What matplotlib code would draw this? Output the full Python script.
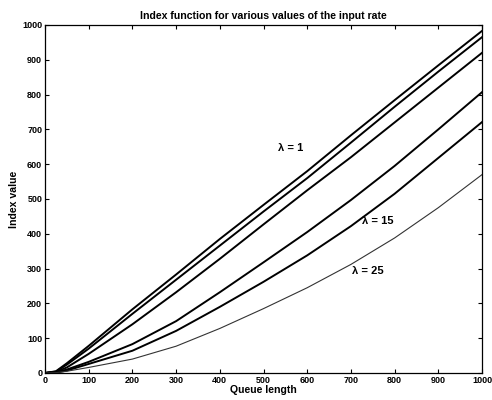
import matplotlib
matplotlib.use("Agg")
import matplotlib.pyplot as plt
import numpy as np

plt.rcParams['font.family'] = ['Liberation Sans', 'DejaVu Sans']

queue_length = [0, 25, 50, 100, 200, 300, 400, 500, 600, 700, 800, 900, 1000]
curve_1 = [0, 5, 28, 78, 183, 283, 385, 483, 580, 683, 784, 884, 983]
curve_2 = [0, 4, 24, 70, 170, 268, 366, 464, 560, 662, 765, 866, 965]
curve_3 = [0, 3, 16, 55, 140, 232, 328, 427, 525, 620, 720, 820, 920]
curve_4 = [0, 2, 10, 32, 83, 149, 232, 318, 405, 497, 595, 700, 807]
curve_5 = [0, 1, 7, 26, 64, 121, 190, 262, 338, 422, 515, 618, 721]
curve_6 = [0, 1, 5, 16, 40, 77, 128, 185, 245, 312, 388, 475, 570]

x_ticks = [0, 100, 200, 300, 400, 500, 600, 700, 800, 900, 1000]
y_ticks = [0, 100, 200, 300, 400, 500, 600, 700, 800, 900, 1000]

title = "Index function for various values of the input rate"
xlabel = "Queue length"
ylabel = "Index value"
annotations = [("λ = 1", 533, 647), ("λ = 15", 725, 437), ("λ = 25", 702, 293)]

fig = plt.figure(figsize=(4.92, 4.0), dpi=100)
ax = fig.add_axes([45/492, 1-373/400, (482-45)/492, (373-25)/400])

for c in [curve_1, curve_2, curve_3, curve_4, curve_5]:
    ax.plot(queue_length, c, color='black', lw=1.4)
ax.plot(queue_length, curve_6, color='#333333', lw=0.8)

for txt, xx, yy in annotations:
    ax.text(xx, yy, txt, fontsize=8, fontweight='bold', ha='left', va='center')

ax.set_xlim(0, 1000)
ax.set_ylim(0, 1000)
ax.set_xticks(x_ticks)
ax.set_yticks(y_ticks)
ax.tick_params(direction='in', top=True, right=True, length=3, width=0.8,
               labelsize=6.5, pad=2)
for lab in ax.get_xticklabels() + ax.get_yticklabels():
    lab.set_fontweight('bold')
for s in ax.spines.values():
    s.set_linewidth(0.9)
ax.set_title(title, fontsize=7.6, fontweight='bold', pad=4)
ax.set_xlabel(xlabel, fontsize=7.6, fontweight='bold', labelpad=0)
ax.set_ylabel(ylabel, fontsize=7.6, fontweight='bold', labelpad=2)

fig.savefig("out.png", dpi=100)
